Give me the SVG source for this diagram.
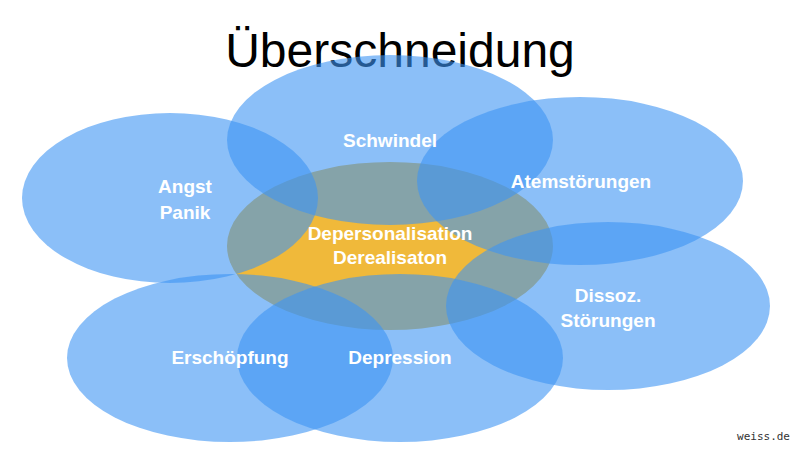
<svg xmlns="http://www.w3.org/2000/svg" width="800" height="450" viewBox="0 0 800 450">
<style>
.b{fill:#3d95f3;fill-opacity:0.6}
.t{font-family:"Helvetica","Liberation Sans",Arial,sans-serif;font-weight:bold;font-size:19px;fill:#fff;text-anchor:middle}
</style>
<rect width="800" height="450" fill="#fff"/>
<text x="400" y="67" font-family="Helvetica,'Liberation Sans',Arial,sans-serif" font-size="48" font-weight="500" text-anchor="middle" fill="#000">Überschneidung</text>
<g id="center"><ellipse cx="390" cy="246" rx="163" ry="84" fill="#f0b93a"/></g>
<g id="angst"><ellipse class="b" cx="170" cy="198" rx="148" ry="85"/></g>
<g id="schwindel"><ellipse class="b" cx="390" cy="140" rx="163" ry="85"/></g>
<g id="atem"><ellipse class="b" cx="580" cy="181" rx="163" ry="84"/></g>
<g id="dissoz"><ellipse class="b" cx="608" cy="306" rx="162" ry="84"/></g>
<g id="erschoepfung"><ellipse class="b" cx="230" cy="358" rx="163" ry="84"/></g>
<g id="depression"><ellipse class="b" cx="400" cy="358" rx="163" ry="84"/></g>
<g id="labels">
<text class="t" x="185" y="193">Angst</text>
<text class="t" x="185" y="219">Panik</text>
<text class="t" x="390" y="147">Schwindel</text>
<text class="t" x="581" y="188">Atemstörungen</text>
<text class="t" x="390" y="240">Depersonalisation</text>
<text class="t" x="390" y="264">Derealisaton</text>
<text class="t" x="608" y="302">Dissoz.</text>
<text class="t" x="608" y="327">Störungen</text>
<text class="t" x="230" y="364">Erschöpfung</text>
<text class="t" x="400" y="364">Depression</text>
</g>
<text x="790" y="440" font-family="'DejaVu Sans Mono',monospace" font-size="11" text-anchor="end" fill="#333">weiss.de</text>
</svg>
